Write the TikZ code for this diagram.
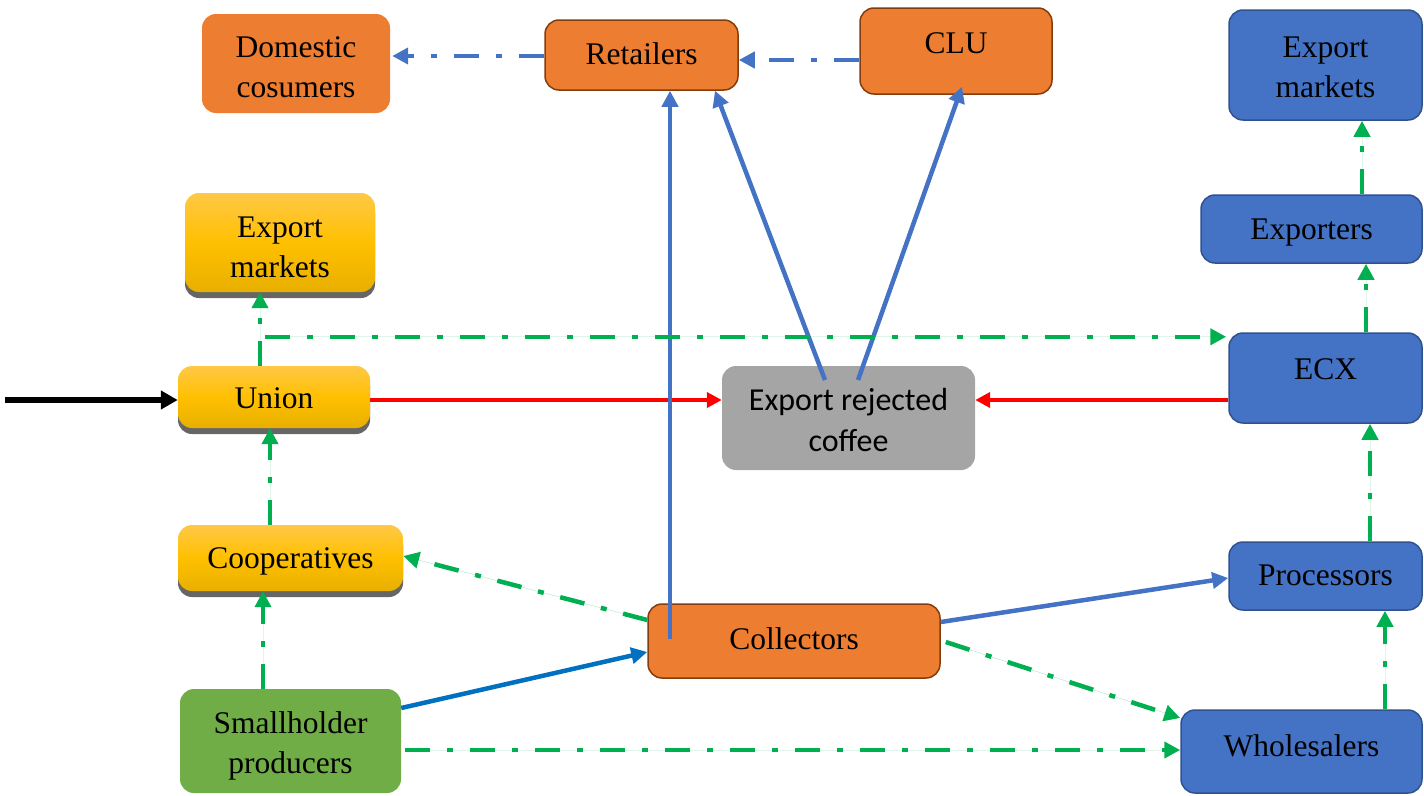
\documentclass[tikz,border=0pt]{standalone}
\usepackage{fontspec}
\setmainfont{Liberation Serif}
\newfontfamily\calib{Carlito}
\usetikzlibrary{arrows.meta,shadows,calc}
\definecolor{orng}{HTML}{ED7D31}
\definecolor{brwn}{HTML}{843C0C}
\definecolor{bl}{HTML}{4472C4}
\definecolor{bldark}{HTML}{2F528F}
\definecolor{gry}{HTML}{A5A5A5}
\definecolor{grn}{HTML}{70AD47}
\definecolor{lgrn}{HTML}{00B050}
\definecolor{lblue}{HTML}{0070C0}
\definecolor{ytop}{HTML}{FFC846}
\definecolor{ymid}{HTML}{FFC000}
\definecolor{ybot}{HTML}{E8AF00}
\newcommand{\twoln}[2]{\begin{tabular}{@{}c@{}}#1\\#2\end{tabular}}
\tikzset{
  box/.style={rounded corners=14pt, inner sep=0pt},
  obox/.style={box, fill=orng},
  obord/.style={obox, draw=brwn, line width=1.5pt},
  bbox/.style={box, fill=bl, draw=bldark, line width=1.5pt},
  ybox/.style={box, top color=ytop, bottom color=ybot, middle color=ymid,
    drop shadow={shadow xshift=0pt, shadow yshift=-6pt, fill=black!60, opacity=1}},
  gbox/.style={box, fill=gry},
  sgbox/.style={box, fill=grn},
  txt/.style={inner sep=0pt, font=\fontsize{31.5}{40}\selectfont, text height=22pt, text depth=7pt},
  txtb/.style={inner sep=0pt, font=\fontsize{31.5}{40}\selectfont},
  txtc/.style={inner sep=0pt, font=\calib\fontsize{32}{41}\selectfont},
  tip/.style={-{Triangle[length=16pt,width=16pt]}},
  solidblue/.style={tip, draw=bl, line width=4.5pt},
  redln/.style={tip, draw=red, line width=4pt, -{Triangle[length=15pt,width=15pt]}},
  dashdot/.style={dash pattern=on 25pt off 17pt on 6pt off 17pt},
  gdd/.style={tip, draw=lgrn, fill=lgrn, line width=4.5pt, dashdot},
  bdd/.style={tip, draw=bl, line width=4.5pt, dashdot},
}
\begin{document}
\begin{tikzpicture}[x=1pt,y=-1pt]
\useasboundingbox (0,0) rectangle (1424,795);
% boxes
\node[obox, minimum width=188pt, minimum height=99pt] (dom) at (296,63.5) {};
\node[obord, minimum width=193pt, minimum height=70pt] (ret) at (641.5,55) {};
\node[obord, minimum width=192pt, minimum height=86pt] (clu) at (956,51) {};
\node[bbox, minimum width=193pt, minimum height=110pt] (exb) at (1325.5,65) {};
\node[ybox, minimum width=190pt, minimum height=99pt] (exy) at (280,242.5) {};
\node[bbox, minimum width=221pt, minimum height=68pt] (expo) at (1311.5,229) {};
\node[bbox, minimum width=193pt, minimum height=90pt] (ecx) at (1325.5,378) {};
\node[ybox, minimum width=192pt, minimum height=62pt] (union) at (274,397) {};
\node[gbox, minimum width=253pt, minimum height=104pt] (erc) at (848.5,418) {};
\node[ybox, minimum width=225pt, minimum height=66pt] (coop) at (290.5,558) {};
\node[bbox, minimum width=193pt, minimum height=68pt] (proc) at (1325.5,576) {};
\node[obord, minimum width=292pt, minimum height=74pt] (coll) at (794,641) {};
\node[sgbox, minimum width=221pt, minimum height=104pt] (small) at (290.5,741) {};
\node[bbox, minimum width=241pt, minimum height=83pt] (whole) at (1301.5,751.5) {};
% texts
\node[txtb] (domt) at (296,69.5) {\twoln{Domestic}{cosumers}};
\node[txt] (rett) at (641.5,57) {Retailers};
\node[txt] (clut) at (956,46) {CLU};
\node[txtb] (exbt) at (1325.5,69.5) {\twoln{Export}{markets}};
\node[txtb] (exyt) at (280,249.5) {\twoln{Export}{markets}};
\node[txt] (expot) at (1311.5,232) {Exporters};
\node[txt] (ecxt) at (1325.5,372) {ECX};
\node[txt] (uniont) at (274,401) {Union};
\node[txtc] (erct) at (848.5,422.5) {\twoln{Export rejected}{coffee}};
\node[txt] (coopt) at (290.5,561) {Cooperatives};
\node[txt] (proct) at (1325.5,578) {Processors};
\node[txt] (collt) at (794,642) {Collectors};
\node[txtb] (smallt) at (290.5,745) {\twoln{Smallholder}{producers}};
\node[txt] (wholet) at (1301.5,749) {Wholesalers};
% connectors
\coordinate (src) at (5,400);
\draw[tip, line width=6pt, -{Triangle[length=17pt,width=18pt]}] (src) -- (src -| union.west);
\draw[redln] ([yshift=-3pt]union.east) -- ([yshift=-3pt]union.east -| erc.west);
\draw[redln] ([yshift=-3pt]union.east -| ecx.west) -- ([yshift=-3pt]union.east -| erc.east);
\draw[solidblue] ([xshift=-124pt,yshift=2pt]coll.center) -- ([xshift=28.5pt]ret.south);
\draw[solidblue] ([xshift=-23.5pt,yshift=38pt]erc.center) -- ([xshift=73.5pt]ret.south);
\draw[solidblue] ([xshift=9.5pt,yshift=38pt]erc.center) -- ([xshift=6pt,yshift=8pt]clu.south);
\coordinate (a1) at ([yshift=-9pt]clu.west);
\draw[bdd] (a1) -- (a1 -| ret.east);
\coordinate (a2) at ([yshift=-1pt]ret.west);
\draw[bdd] (a2) -- ([xshift=2pt]a2 -| dom.east);
\draw[tip, draw=lblue, line width=4.5pt] ([yshift=33pt]small.east) -- ([yshift=-11pt]coll.west);
\draw[solidblue] ([yshift=19pt]coll.east) -- ([yshift=-2pt]proc.west);
\draw[gdd] ([yshift=21pt]coll.west) -- ([yshift=2pt]coop.east);
\draw[gdd] ([xshift=5pt,yshift=-1pt]coll.east) -- ([yshift=33.5pt]whole.west);
\coordinate (a3) at ([xshift=4pt,yshift=-9pt]small.east);
\draw[gdd] (a3) -- (a3 -| whole.west);
\draw[gdd] ([xshift=-27.5pt]small.north) -- ([xshift=-27.5pt]small.north |- coop.south);
\draw[gdd] ([xshift=-20.5pt]coop.north) -- ([xshift=-20.5pt]coop.north |- union.south);
\draw[gdd] ([xshift=-14pt]union.north) -- ([xshift=-14pt]union.north |- exy.south);
\coordinate (br) at ([xshift=-9pt,yshift=29pt]union.north);
\draw[gdd] (br) -- ([xshift=-2pt]br -| ecx.west);
\draw[gdd] ([xshift=44.5pt]proc.north) -- ([xshift=44.5pt]proc.north |- ecx.south);
\draw[gdd] ([xshift=83.5pt]whole.north) -- ([xshift=83.5pt]whole.north |- proc.south);
\draw[gdd] ([xshift=54.5pt]expo.north |- ecx.north) -- ([xshift=54.5pt]expo.south);
\draw[gdd] ([xshift=50.5pt]expo.north) -- ([xshift=50.5pt]expo.north |- exb.south);
\end{tikzpicture}
\end{document}
